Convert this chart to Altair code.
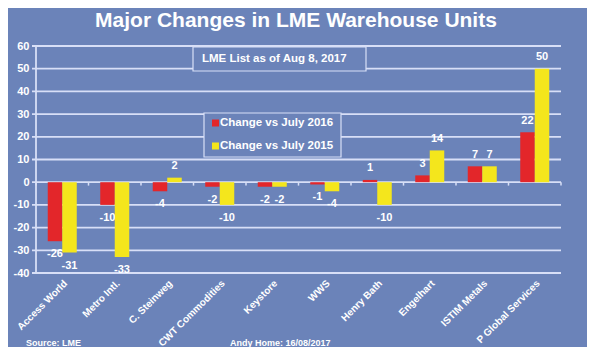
import altair as alt
import pandas as pd

# ---------------- data ----------------
CATS = ["Access World", "Metro Intl.", "C. Steinweg", "CWT Commodities", "Keystore",
        "WWS", "Henry Bath", "Engelhart", "ISTIM Metals", "P Global Services"]
V2016 = [-26, -10, -4, -2, -2, -1, 1, 3, 7, 22]
V2015 = [-31, -33, 2, -10, -2, -4, -10, 14, 7, 50]
SERIES = ["Change vs July 2016", "Change vs July 2015"]
Y_TICKS = [-40, -30, -20, -10, 0, 10, 20, 30, 40, 50, 60]
TITLE = "Major Changes in LME Warehouse Units"
NOTE = "LME List as of Aug 8, 2017"
SOURCE = "Source: LME"
AUTHOR = "Andy Home: 16/08/2017"

# ---------------- style ----------------
BG = "#6b83b9"
GRID = "#d8dff7"
RED = "#e3262a"
YELLOW = "#f4e61c"
WHITE = "#ffffff"
FONT = "Liberation Sans"

rows = []
for c, a, b in zip(CATS, V2016, V2015):
    rows.append({"cat": c, "series": SERIES[0], "value": a})
    rows.append({"cat": c, "series": SERIES[1], "value": b})
df = pd.DataFrame(rows)
one = pd.DataFrame({"k": [0]})
cats_df = pd.DataFrame({"cat": CATS})
last_df = pd.DataFrame({"cat": [CATS[-1]]})
grid_df = pd.DataFrame({"t": Y_TICKS})

x_axis = alt.Axis(labelAngle=-45, labelColor=WHITE, labelFont=FONT, labelFontSize=10,
                  labelFontWeight="bold", domain=False, ticks=False, tickSize=0,
                  labelPadding=5, grid=False, title=None, labelOverlap=False)
x_scale = alt.Scale(paddingInner=0, paddingOuter=0)
y_scale = alt.Scale(domain=[-40, 60], nice=False, zero=False)
y_axis = alt.Axis(values=Y_TICKS, grid=False, domain=False, ticks=False, tickSize=0,
                  labelColor=WHITE, labelFont=FONT, labelFontSize=11, labelFontWeight="bold",
                  labelPadding=7, title=None, labelOverlap=False, labelFlush=False,
                  labelExpr="'' + datum.value")

X = alt.X("cat:N", sort=CATS, scale=x_scale, axis=x_axis)
XO = alt.XOffset("series:N", sort=SERIES, scale=alt.Scale(paddingOuter=0.81, paddingInner=0))
Y = alt.Y("value:Q", scale=y_scale, axis=y_axis)

# gridlines (with small outward ticks) and left axis line
grid = alt.Chart(grid_df).mark_rule(color=GRID, strokeWidth=1.8).encode(
    y=alt.Y("t:Q", scale=y_scale, axis=y_axis), x=alt.value(-4), x2=alt.value(525))
yline = alt.Chart(one).mark_rule(color=GRID, strokeWidth=1.8).encode(
    x=alt.value(0), y=alt.value(0), y2=alt.value(227))

bars = alt.Chart(df).mark_bar().encode(
    x=X, xOffset=XO, y=Y,
    color=alt.Color("series:N", sort=SERIES,
                    scale=alt.Scale(domain=SERIES, range=[RED, YELLOW]), legend=None),
)

lab_style = dict(color=WHITE, font=FONT, fontSize=11, fontWeight="bold", baseline="middle")
pos_labels = alt.Chart(df).transform_filter("datum.value >= 0").transform_calculate(
    lab="'' + datum.value").mark_text(dy=-11.5, **lab_style).encode(
    x=X, xOffset=XO, y=Y, text="lab:N")
neg_labels = alt.Chart(df).transform_filter("datum.value < 0").transform_calculate(
    lab="'' + datum.value").mark_text(dy=13, **lab_style).encode(
    x=X, xOffset=XO, y=Y, text="lab:N")

ticks = alt.Chart(cats_df).mark_rule(color=GRID, strokeWidth=1.5).encode(
    x=alt.X("cat:N", sort=CATS, scale=x_scale, axis=x_axis, bandPosition=0),
    y=alt.YDatum(0, scale=y_scale, axis=y_axis), y2=alt.Y2Datum(-1.5))
ticks_end = alt.Chart(last_df).mark_rule(color=GRID, strokeWidth=1.5).encode(
    x=alt.X("cat:N", sort=CATS, scale=x_scale, axis=x_axis, bandPosition=1),
    y=alt.YDatum(0, scale=y_scale, axis=y_axis), y2=alt.Y2Datum(-1.5))

# annotation boxes
note_box = alt.Chart(one).mark_rect(fill=BG, stroke=GRID, strokeWidth=1.2).encode(
    x=alt.value(157), x2=alt.value(330), y=alt.value(1), y2=alt.value(25))
note_txt = alt.Chart(one).mark_text(color=WHITE, font=FONT, fontSize=11.5, fontWeight="bold",
                                    align="left", baseline="middle").encode(
    x=alt.value(166), y=alt.value(12.5), text=alt.value(NOTE))

leg_box = alt.Chart(one).mark_rect(fill=BG, stroke=GRID, strokeWidth=1.2).encode(
    x=alt.value(168), x2=alt.value(305), y=alt.value(67), y2=alt.value(111))
sq1 = alt.Chart(one).mark_rect(fill=RED).encode(
    x=alt.value(176), x2=alt.value(183), y=alt.value(73.5), y2=alt.value(80.5))
sq2 = alt.Chart(one).mark_rect(fill=YELLOW).encode(
    x=alt.value(176), x2=alt.value(183), y=alt.value(96.5), y2=alt.value(103.5))
leg_style = dict(color=WHITE, font=FONT, fontSize=11.5, fontWeight="bold", align="left", baseline="middle")
lt1 = alt.Chart(one).mark_text(**leg_style).encode(x=alt.value(184), y=alt.value(77), text=alt.value(SERIES[0]))
lt2 = alt.Chart(one).mark_text(**leg_style).encode(x=alt.value(184), y=alt.value(100), text=alt.value(SERIES[1]))

title = alt.Chart(one).mark_text(color=WHITE, font=FONT, fontSize=21, fontWeight="bold",
                                 align="center", baseline="middle").encode(
    x=alt.value(260), y=alt.value(-25), text=alt.value(TITLE))
foot_style = dict(color=WHITE, font=FONT, fontSize=9, fontWeight="bold", align="left", baseline="middle")
src = alt.Chart(one).mark_text(**foot_style).encode(x=alt.value(-10), y=alt.value(297), text=alt.value(SOURCE))
auth = alt.Chart(one).mark_text(**foot_style).encode(x=alt.value(194), y=alt.value(297), text=alt.value(AUTHOR))

chart = alt.layer(
    grid, yline, bars, ticks, ticks_end, pos_labels, neg_labels,
    note_box, note_txt, leg_box, sq1, sq2, lt1, lt2, title, src, auth
).properties(
    width=525, height=227,
    autosize=alt.AutoSizeParams(type="none"),
    padding={"left": 28, "top": 38, "right": 26, "bottom": 74},
    background=BG,
).configure_view(stroke=None)

chart.save("out.html", embed_options={"renderer": "svg", "actions": False})
